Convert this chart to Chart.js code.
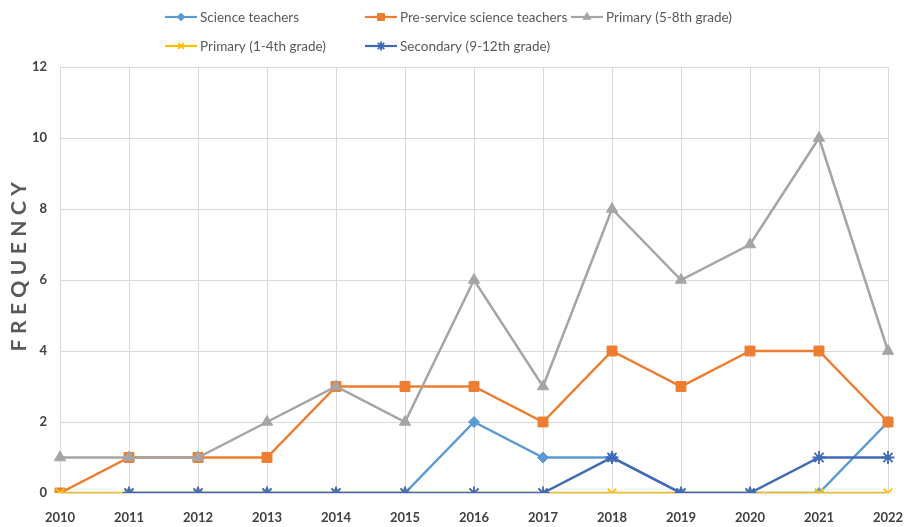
<!DOCTYPE html>
<html>
<head>
<meta charset="utf-8">
<script src="https://cdn.jsdelivr.net/npm/chart.js@4.4.1/dist/chart.umd.min.js"></script>
<style>
  html, body { margin: 0; padding: 0; background: #ffffff; }
  #wrap { position: relative; width: 905px; height: 527px; }
  canvas { display: block; }
</style>
</head>
<body>
<div id="wrap"><canvas id="chart" width="905" height="527"></canvas></div>
<script>
// Publication years on the x axis
const years = ['2010', '2011', '2012', '2013', '2014', '2015', '2016',
               '2017', '2018', '2019', '2020', '2021', '2022'];

// Number of studies per year for each participant group
const scienceTeachers      = [null, 0, 0, 0, 0, 0, 2, 1, 1, 0, 0, 0, 2];
const preServiceTeachers   = [0, 1, 1, 1, 3, 3, 3, 2, 4, 3, 4, 4, 2];
const primaryUpper         = [1, 1, 1, 2, 3, 2, 6, 3, 8, 6, 7, 10, 4];
const primaryLower         = [0, 0, 0, 0, 0, 0, 0, 0, 0, 0, 0, 0, 0];
const secondaryStudents    = [null, 0, 0, 0, 0, 0, 0, 0, 1, 0, 0, 1, 1];

const seriesNames = ['Science teachers', 'Pre-service science teachers',
                     'Primary (5-8th grade)', 'Primary (1-4th grade)',
                     'Secondary (9-12th grade)'];

const yTicks = [0, 2, 4, 6, 8, 10, 12];

const FONT = 'Lato, "Liberation Sans", sans-serif';

function series(label, data, color, style, radius, order, borderW) {
  return {
    label, data, order,
    borderColor: color,
    backgroundColor: color,
    borderWidth: 2.5,
    pointStyle: style,
    pointRadius: radius,
    pointHoverRadius: radius,
    pointBackgroundColor: color,
    pointBorderColor: color,
    pointBorderWidth: borderW,
    tension: 0,
    spanGaps: false
  };
}

const datasets = [
  series(seriesNames[0], scienceTeachers,    '#5B9BD5', 'rectRot',  5.5, 5, 1),
  series(seriesNames[1], preServiceTeachers, '#ED7D31', 'rect',     7,   4, 1),
  series(seriesNames[2], primaryUpper,       '#A5A5A5', 'triangle', 6.5, 3, 1),
  series(seriesNames[3], primaryLower,       '#FFC000', 'crossRot', 6,   2, 1.8),
  series(seriesNames[4], secondaryStudents,  '#4169B8', 'star',     6.5, 1, 1.8)
];

// Two-row legend, laid out in columns with a line-and-marker swatch
const legendLayout = [
  { x: 165, y: 17 }, { x: 365, y: 17 }, { x: 571, y: 17 },
  { x: 165, y: 46 }, { x: 365, y: 46 }
];

const sampleLegend = {
  id: 'sampleLegend',
  afterDraw(chart) {
    const ctx = chart.ctx;
    ctx.save();
    chart.data.datasets.forEach((ds, i) => {
      const pos = legendLayout[i];
      const lineLen = 32;
      ctx.strokeStyle = ds.borderColor;
      ctx.lineWidth = 2.2;
      ctx.beginPath();
      ctx.moveTo(pos.x, pos.y);
      ctx.lineTo(pos.x + lineLen, pos.y);
      ctx.stroke();
      ctx.fillStyle = ds.pointBackgroundColor;
      ctx.strokeStyle = ds.pointBorderColor;
      ctx.lineWidth = ds.pointBorderWidth;
      Chart.helpers.drawPoint(ctx, {
        pointStyle: ds.pointStyle,
        radius: ds.pointRadius * 0.7,
        rotation: 0,
        borderWidth: ds.pointBorderWidth
      }, pos.x + lineLen / 2, pos.y);
      ctx.fillStyle = '#595959';
      ctx.font = '13.5px ' + FONT;
      ctx.textAlign = 'left';
      ctx.textBaseline = 'middle';
      ctx.fillText(ds.label, pos.x + lineLen + 3, pos.y + 1);
    });
    ctx.restore();
  }
};

// Rotated, letter-spaced y-axis title
const yAxisTitle = {
  id: 'yAxisTitle',
  afterDraw(chart) {
    const ctx = chart.ctx;
    ctx.save();
    ctx.translate(19, 264);
    ctx.rotate(-Math.PI / 2);
    ctx.font = 'bold 21px ' + FONT;
    ctx.fillStyle = '#595959';
    ctx.textAlign = 'center';
    ctx.textBaseline = 'middle';
    if ('letterSpacing' in ctx) ctx.letterSpacing = '5.5px';
    ctx.fillText('FREQUENCY', 0, 0);
    ctx.restore();
  }
};

new Chart(document.getElementById('chart'), {
  type: 'line',
  data: { labels: years, datasets },
  options: {
    responsive: false,
    animation: false,
    events: [],
    layout: { padding: { top: 67, right: 17, left: 0, bottom: 0 } },
    plugins: {
      legend: { display: false },
      tooltip: { enabled: false }
    },
    scales: {
      x: {
        type: 'category',
        offset: false,
        afterFit(scale) {
          scale.height = 34;
          scale.paddingRight = 0;
          scale.paddingLeft = 0;
        },
        grid: { color: '#D9D9D9', lineWidth: 1, drawTicks: false },
        border: { color: '#D9D9D9' },
        ticks: {
          padding: 17,
          color: '#404040',
          font: { family: FONT, size: 13, weight: 'bold' },
          maxRotation: 0,
          autoSkip: false
        }
      },
      y: {
        min: 0,
        max: 12,
        afterFit(scale) { scale.width = 60; },
        afterBuildTicks(scale) { scale.ticks = yTicks.map(v => ({ value: v })); },
        grid: { color: '#D9D9D9', lineWidth: 1, drawTicks: false },
        border: { color: '#D9D9D9' },
        ticks: {
          padding: 13,
          color: '#404040',
          font: { family: FONT, size: 13, weight: 'bold' }
        }
      }
    }
  },
  plugins: [sampleLegend, yAxisTitle]
});
</script>
</body>
</html>
